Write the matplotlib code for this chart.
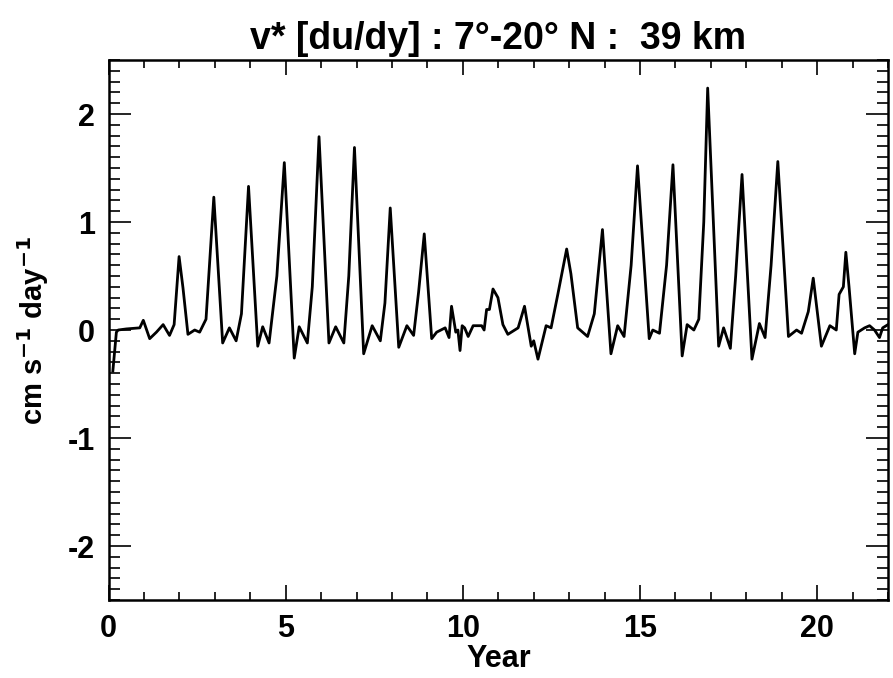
import matplotlib.pyplot as plt

year = [0.12, 0.22, 0.27, 0.5, 0.88, 0.98, 1.16, 1.35, 1.54, 1.72, 1.85, 1.99, 2.1,
        2.24, 2.43, 2.57, 2.75, 2.97, 3.22, 3.41, 3.6, 3.75, 3.95, 4.21, 4.35, 4.53,
        4.75, 4.96, 5.24, 5.38, 5.61, 5.75, 5.94, 6.22, 6.41, 6.64, 6.78, 6.94, 7.2,
        7.44, 7.67, 7.8, 7.95, 8.19, 8.42, 8.61, 8.75, 8.91, 9.12, 9.26, 9.5, 9.61,
        9.68, 9.8, 9.86, 9.92, 9.98, 10.05, 10.15, 10.29, 10.53, 10.6, 10.67, 10.75,
        10.85, 10.99, 11.13, 11.27, 11.56, 11.74, 11.93, 12.0, 12.12, 12.35, 12.49,
        12.68, 12.93, 13.05, 13.24, 13.52, 13.71, 13.94, 14.18, 14.37, 14.55, 14.75,
        14.93, 15.26, 15.36, 15.55, 15.75, 15.93, 16.19, 16.33, 16.52, 16.66, 16.8,
        16.91, 17.22, 17.36, 17.55, 17.7, 17.88, 18.16, 18.37, 18.53, 18.7, 18.89,
        19.19, 19.42, 19.56, 19.75, 19.89, 20.12, 20.36, 20.54, 20.62, 20.74, 20.81,
        20.9, 21.06, 21.15, 21.34, 21.48, 21.62, 21.76, 21.85, 22.0]
vstar = [-0.38, -0.02, 0.0, 0.01, 0.02, 0.09, -0.08, -0.02, 0.05, -0.05, 0.05, 0.68, 0.39,
         -0.04, 0.0, -0.02, 0.1, 1.23, -0.12, 0.02, -0.1, 0.15, 1.33, -0.15, 0.03, -0.12,
         0.5, 1.55, -0.26, 0.03, -0.12, 0.4, 1.79, -0.12, 0.03, -0.12, 0.5, 1.69, -0.22,
         0.04, -0.1, 0.25, 1.13, -0.16, 0.04, -0.05, 0.35, 0.89, -0.08, -0.02, 0.02, -0.07,
         0.22, -0.02, 0.0, -0.19, 0.04, 0.02, -0.06, 0.04, 0.04, 0.0, 0.19, 0.19,
         0.38, 0.3, 0.05, -0.04, 0.02, 0.22, -0.15, -0.1, -0.27, 0.04, 0.02,
         0.33, 0.75, 0.52, 0.02, -0.06, 0.15, 0.93, -0.22, 0.04, -0.06, 0.6,
         1.52, -0.08, 0.0, -0.03, 0.6, 1.53, -0.24, 0.05, 0.0, 0.1, 1.0,
         2.24, -0.15, 0.02, -0.17, 0.5, 1.44, -0.27, 0.06, -0.07, 0.6, 1.56,
         -0.06, 0.0, -0.03, 0.17, 0.48, -0.15, 0.04, 0.0, 0.33, 0.4, 0.72,
         0.4, -0.22, -0.02, 0.02, 0.04, 0.0, -0.07, 0.02, 0.05]

xticks = [0, 5, 10, 15, 20]
yticks = [-2, -1, 0, 1, 2]

plt.rcParams['font.family'] = ['Liberation Sans', 'DejaVu Sans']
plt.rcParams['font.weight'] = 'bold'
plt.rcParams['axes.unicode_minus'] = False
plt.rcParams['mathtext.default'] = 'bf'

fig = plt.figure(figsize=(8.93, 6.78), dpi=100)
ax = fig.add_axes([0.1216, 0.115, 0.8728, 0.7965])

ax.plot(year, vstar, color='black', linewidth=2.0)

ax.set_xlim(0, 22)
ax.set_ylim(-2.5, 2.5)
ax.set_xticks(xticks)
ax.set_yticks(yticks)
ax.set_xticks(range(0, 23), minor=True)
ax.set_yticks([i / 10 for i in range(-25, 26)], minor=True)

ax.tick_params(axis='both', which='both', direction='in', top=True, right=True,
               labelsize=22, width=1.2)
ax.tick_params(axis='x', which='major', length=11, pad=10)
ax.tick_params(axis='x', which='minor', length=6)
ax.tick_params(axis='y', which='major', length=16, pad=10)
ax.tick_params(axis='y', which='minor', length=8)
for lab in ax.get_xticklabels() + ax.get_yticklabels():
    lab.set_fontweight('bold')
for s in ax.spines.values():
    s.set_linewidth(1.8)

ax.set_xlabel('Year', fontsize=22, fontweight='bold', labelpad=0)
ax.set_ylabel('cm s$^{-1}$ day$^{-1}$', fontsize=21, fontweight='bold', labelpad=12)
ax.set_title('v* [du/dy] : 7°-20° N :  39 km', fontsize=27, fontweight='bold', pad=8)

fig.savefig('out.png', dpi=100)
